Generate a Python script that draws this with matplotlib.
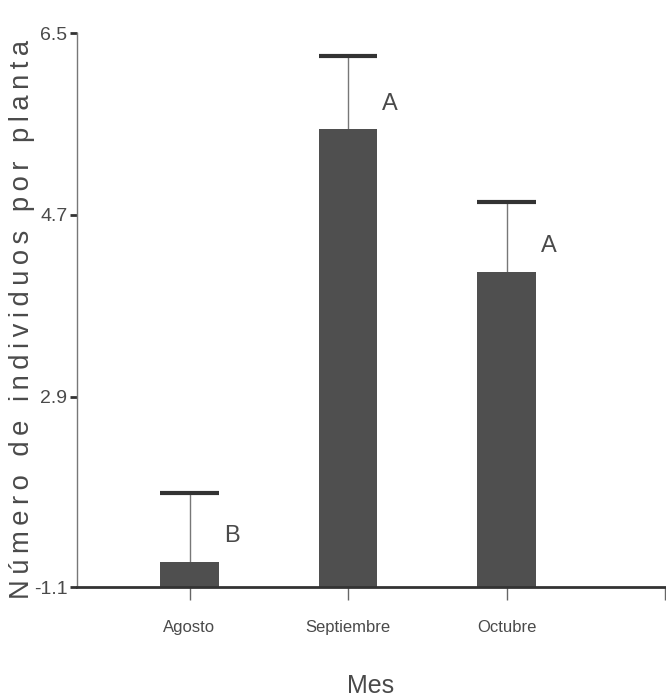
import matplotlib
matplotlib.use("Agg")
import matplotlib.pyplot as plt

# mean number of individuals per plant, by month
months = ["Agosto", "Septiembre", "Octubre"]
means = [1.27, 5.55, 4.14]
errs = [0.68, 0.72, 0.69]
letters = ["B", "A", "A"]

y_ticks = [1.02, 2.9, 4.7, 6.5]
y_tick_labels = ["-1.1", "2.9", "4.7", "6.5"]

FONT = ["Liberation Sans", "DejaVu Sans"]
TEXT_COLOR = "#4a4a4a"
BAR_COLOR = "#4f4f4f"

fig = plt.figure(figsize=(6.66, 6.98), dpi=100)
ax = fig.add_axes([0.1156, 0.159, 0.8829, 0.7937])

x = list(range(1, len(months) + 1))
width = 0.372
ax.bar(x, means, width=width, color=BAR_COLOR, zorder=2)

# upper error bars only, cap as wide as the bar
tops = [m + e for m, e in zip(means, errs)]
ax.vlines(x, means, tops, color="#777777", lw=1.0, zorder=1)
ax.hlines(tops, [xi - width / 2 for xi in x], [xi + width / 2 for xi in x],
          color="#333333", lw=3, zorder=3)

for xi, m, lab in zip(x, means, letters):
    ax.text(xi + width / 2 + 0.03, m + 0.25, lab, ha="left", va="center",
            fontsize=17, color=TEXT_COLOR, family=FONT)

ax.set_xlim(0.29, 4.0)
ax.set_ylim(y_ticks[0], 6.5)

ax.set_xticks(x + [4])
ax.set_xticklabels(months + [""], family=FONT, fontsize=12, color=TEXT_COLOR)
ax.set_yticks(y_ticks)
ax.set_yticklabels(y_tick_labels, family=FONT, fontsize=14, color=TEXT_COLOR)

ax.tick_params(axis="x", direction="out", length=9, width=1, color="#666666", pad=15)
ax.tick_params(axis="y", direction="out", length=5, width=2, color="#333333", pad=2)

for side in ["top", "right"]:
    ax.spines[side].set_visible(False)
ax.spines["left"].set_color("#777777")
ax.spines["left"].set_linewidth(1.0)
ax.spines["bottom"].set_color("#333333")
ax.spines["bottom"].set_linewidth(2.0)

ax.set_xlabel("Mes", family=FONT, fontsize=18, color=TEXT_COLOR, labelpad=28)

# spaced-out lettering for the value axis title
ylabel = "\u2009".join("Número de individuos por planta")
fig.text(0.033, 0.543, ylabel, rotation=90, ha="center", va="center",
         fontsize=19.7, color=TEXT_COLOR, family=FONT)

fig.savefig("out.png", dpi=100)
